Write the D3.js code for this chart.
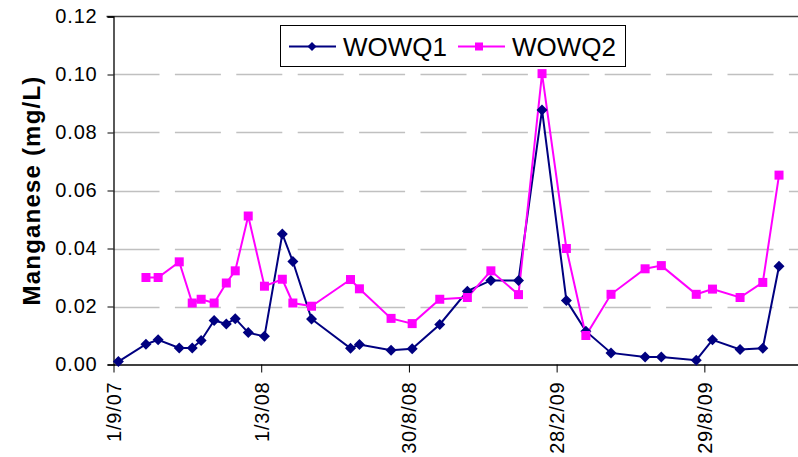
<!DOCTYPE html>
<html>
<head>
<meta charset="utf-8">
<script src="https://cdn.jsdelivr.net/npm/d3@7"></script>
<style>
  html, body { margin: 0; padding: 0; background: #fff; }
  svg { display: block; font-family: "Liberation Sans", Arial, sans-serif; }
</style>
</head>
<body>
<svg id="chart" width="798" height="457"></svg>
<script>
// ---- data ----
const sampleDates = ["7/9/07","11/10/07","26/10/07","21/11/07","7/12/07","18/12/07","3/1/08","18/1/08","29/1/08","14/2/08","5/3/08","27/3/08","9/4/08","2/5/08","19/6/08","30/6/08","8/8/08","3/9/08","7/10/08","10/11/08","9/12/08","12/1/09","10/2/09","12/3/09","5/4/09","6/5/09","17/6/09","7/7/09","19/8/09","8/9/09","12/10/09","9/11/09","29/11/09"];
const wowq1 = [0.001,0.007,0.0085,0.0057,0.0057,0.0083,0.0152,0.014,0.0158,0.011,0.0097,0.045,0.0355,0.0157,0.0056,0.0069,0.0049,0.0054,0.0138,0.0253,0.029,0.029,0.0878,0.0221,0.0115,0.004,0.0026,0.0026,0.0015,0.0085,0.0052,0.0056,0.0339];
const wowq2 = [null,0.030,0.030,0.0354,0.0212,0.0225,0.0212,0.0281,0.0323,0.0512,0.027,0.0294,0.0212,0.0201,0.0293,0.0261,0.0159,0.0141,0.0225,0.0231,0.0323,0.0241,0.1003,0.040,0.010,0.0242,0.033,0.0341,0.0242,0.026,0.0231,0.0283,0.0653];
const seriesNames = ["WOWQ1","WOWQ2"];
const xTickLabels = ["1/9/07","1/3/08","30/8/08","28/2/09","29/8/09"];
const xDomainLabels = ["1/9/07","23/12/09"];
const yTicks = [0,0.02,0.04,0.06,0.08,0.10,0.12];
const yTitle = "Manganese (mg/L)";

(function () {
const parse = d3.utcParse("%d/%m/%y");
const svg = d3.select("#chart");

const pL = 113.5, pR = 798.5, pT = 16.5, pB = 364.5;
const x = d3.scaleUtc().domain(xDomainLabels.map(parse)).range([pL, pR]);
const y = d3.scaleLinear().domain([0, 0.12]).range([pB, pT]);

// gridlines
svg.append("g").selectAll("line").data(yTicks.filter(v => v > 0 && v < 0.12)).join("line")
  .attr("x1", pL).attr("x2", 798).attr("y1", d => Math.round(y(d)) + 0.5).attr("y2", d => Math.round(y(d)) + 0.5)
  .attr("stroke", "#c0c0c0").attr("stroke-width", 1.3).attr("stroke-dasharray", "46,15.4");

// top line at 0.12
svg.append("line").attr("x1", pL - 7).attr("x2", 798).attr("y1", y(0.12)).attr("y2", y(0.12))
  .attr("stroke", "#404040").attr("stroke-width", 1.5);

// y axis
const yAxis = d3.axisLeft(y).tickValues(yTicks).tickFormat(d3.format(".2f")).tickSize(6).tickPadding(10);
const gy = svg.append("g").attr("transform", `translate(${pL},0)`).call(yAxis);
gy.select(".domain").attr("stroke", "#000").attr("stroke-width", 1.3);
gy.selectAll(".tick line").attr("stroke", "#000");
gy.selectAll("text").attr("font-size", 20).attr("fill", "#000").attr("letter-spacing", 0.8)
  .attr("font-family", "Liberation Sans, Arial, sans-serif");

// x axis
const xAxis = d3.axisBottom(x).tickValues(xTickLabels.map(parse)).tickFormat((d, i) => xTickLabels[i]).tickSize(8).tickSizeOuter(0);
const gx = svg.append("g").attr("transform", `translate(0,${pB})`).call(xAxis);
gx.select(".domain").attr("stroke", "#000").attr("stroke-width", 1.5);
gx.selectAll(".tick line").attr("stroke", "#000");
gx.selectAll("text")
  .attr("font-size", 20).attr("fill", "#000").attr("font-family", "Liberation Sans, Arial, sans-serif")
  .attr("text-anchor", "end").attr("transform", "rotate(-90)")
  .attr("x", -17).attr("y", 0).attr("dy", "0.35em").attr("letter-spacing", 0.8);

// y title
svg.append("text").attr("transform", `translate(40,${(pT + pB) / 2}) rotate(-90)`)
  .attr("text-anchor", "middle").attr("font-size", 24).attr("font-weight", "bold")
  .attr("letter-spacing", 1.2).text(yTitle);

// series
const rows = sampleDates.map((d, i) => ({ date: parse(d), v1: wowq1[i], v2: wowq2[i] }));
const line1 = d3.line().defined(d => d.v1 != null).x(d => x(d.date)).y(d => y(d.v1));
const line2 = d3.line().defined(d => d.v2 != null).x(d => x(d.date)).y(d => y(d.v2));
const c1 = "#000080", c2 = "#FF00FF";

svg.append("path").datum(rows).attr("d", line1).attr("fill", "none").attr("stroke", c1).attr("stroke-width", 2);
svg.append("path").datum(rows).attr("d", line2).attr("fill", "none").attr("stroke", c2).attr("stroke-width", 2);

const diamond = s => `M0,${-s}L${s},0L0,${s}L${-s},0Z`;
svg.append("g").selectAll("path").data(rows.filter(d => d.v1 != null)).join("path")
  .attr("transform", d => `translate(${x(d.date)},${y(d.v1)})`).attr("d", diamond(5.5)).attr("fill", c1);
svg.append("g").selectAll("rect").data(rows.filter(d => d.v2 != null)).join("rect")
  .attr("x", d => x(d.date) - 4.5).attr("y", d => y(d.v2) - 4.5).attr("width", 9).attr("height", 9).attr("fill", c2);

// legend
const lg = svg.append("g");
lg.append("rect").attr("x", 280.5).attr("y", 25.5).attr("width", 345).attr("height", 41)
  .attr("fill", "#fff").attr("stroke", "#000").attr("stroke-width", 1);
const ly = 46.5;
lg.append("line").attr("x1", 289).attr("x2", 336).attr("y1", ly).attr("y2", ly).attr("stroke", c1).attr("stroke-width", 2);
lg.append("path").attr("transform", `translate(312,${ly})`).attr("d", diamond(4.5)).attr("fill", c1);
lg.append("text").attr("x", 343).attr("y", ly).attr("dy", "0.36em").attr("font-size", 26).text(seriesNames[0]);
lg.append("line").attr("x1", 458).attr("x2", 505).attr("y1", ly).attr("y2", ly).attr("stroke", c2).attr("stroke-width", 2);
lg.append("rect").attr("x", 479 - 4).attr("y", ly - 4).attr("width", 8).attr("height", 8).attr("fill", c2);
lg.append("text").attr("x", 512).attr("y", ly).attr("dy", "0.36em").attr("font-size", 26).text(seriesNames[1]);
})();
</script>
</body>
</html>
